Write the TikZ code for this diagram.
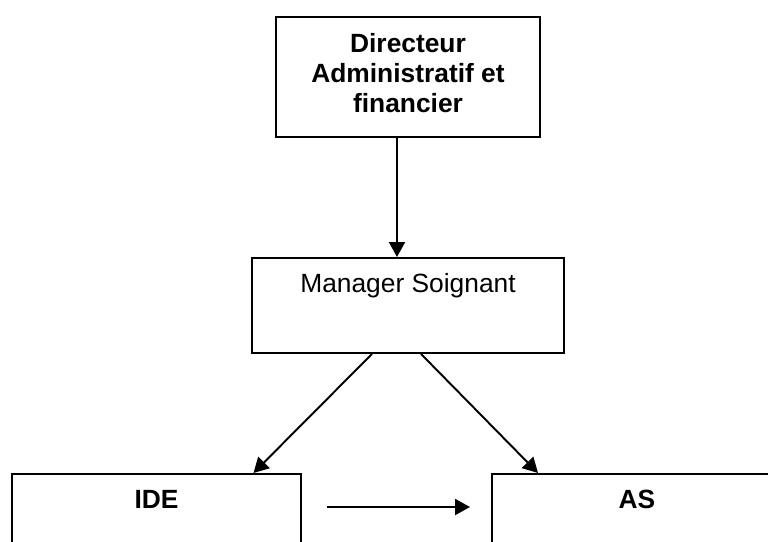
\documentclass[tikz,border=0pt]{standalone}
\usepackage{fontspec}
\setmainfont{Liberation Sans}
\usetikzlibrary{arrows.meta}
\newcommand{\lignes}[1]{\begin{tabular}[t]{@{}c@{}}#1\end{tabular}}

\begin{document}
\begin{tikzpicture}
    \tikzset{boite/.style={draw, line width=1.1pt, inner sep=0pt, anchor=north,
               font=\fontsize{15}{17}\selectfont, text height=0.7cm, text depth=1.2cm},
             gras/.style={font=\fontsize{15}{17}\selectfont\bfseries},
             fleche/.style={-{Triangle[length=0.3cm,width=0.32cm]}, line width=1.1pt}}
\clip (0,0) rectangle (15.36,-10.82);
\node[boite, gras, minimum width=5.28cm, text height=0.72cm, text depth=1.68cm] (daf) at (8.16,-0.32)
   {\lignes{Directeur\\Administratif et\\financier}};
\node[boite, minimum width=6.24cm] (manager) at (8.16,-5.14) {Manager Soignant};
\node[boite, gras, minimum width=5.78cm] (ide) at (3.13,-9.46) {IDE};
\node[boite, gras, minimum width=5.8cm] (as) at (12.74,-9.46) {AS};
 \draw[fleche] ([xshift=-0.22cm]daf.south) -- ([xshift=-0.22cm]manager.north);
 \draw[fleche] ([xshift=-0.72cm]manager.south) -- ([xshift=1.94cm]ide.north);
 \draw[fleche] ([xshift=0.26cm]manager.south) -- ([xshift=-1.98cm]as.north);
 \draw[fleche] ([shift={(0.5,-0.68)}]ide.north east) -- ([shift={(-0.42,-0.68)}]as.north west);
% boites du bas coupees par le bord
\end{tikzpicture}
\end{document}
